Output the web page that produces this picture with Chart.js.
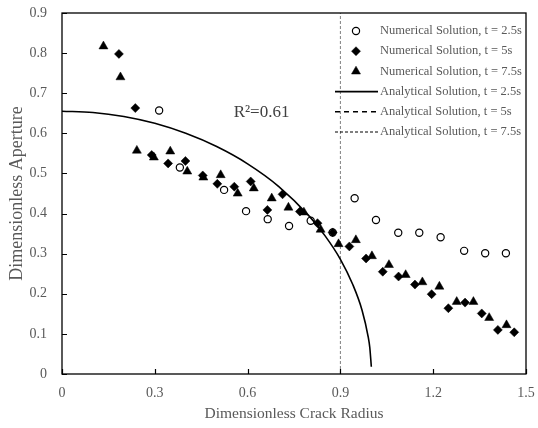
<!DOCTYPE html>
<html>
<head>
<meta charset="utf-8">
<script src="https://cdn.jsdelivr.net/npm/chart.js@4.4.0/dist/chart.umd.min.js"></script>
<style>
  html, body { margin: 0; padding: 0; background: #fff; }
  #wrap { width: 538px; height: 428px; }
</style>
</head>
<body>
<div id="wrap"><canvas id="chart" width="538" height="428"></canvas></div>
<script>
/* ---------------- Data ---------------- */
const xTicks = [0, 0.3, 0.6, 0.9, 1.2, 1.5];
const yTicks = [0, 0.1, 0.2, 0.3, 0.4, 0.5, 0.6, 0.7, 0.8, 0.9];

// Numerical solution, t = 2.5s (open circles)
const num25X = [0.314, 0.381, 0.524, 0.595, 0.665, 0.734, 0.804, 0.875, 0.946, 1.015, 1.087, 1.155, 1.224, 1.300, 1.368, 1.435];
const num25Y = [0.657, 0.515, 0.459, 0.406, 0.386, 0.369, 0.382, 0.353, 0.438, 0.384, 0.352, 0.352, 0.341, 0.307, 0.301, 0.301];

// Numerical solution, t = 5s (diamonds)
const num5X = [0.184, 0.237, 0.290, 0.343, 0.399, 0.455, 0.502, 0.557, 0.610, 0.664, 0.713, 0.769, 0.826, 0.875, 0.929, 0.983, 1.037, 1.088, 1.141, 1.195, 1.249, 1.303, 1.357, 1.409, 1.462];
const num5Y = [0.798, 0.663, 0.546, 0.525, 0.531, 0.495, 0.474, 0.467, 0.480, 0.409, 0.448, 0.405, 0.376, 0.353, 0.318, 0.288, 0.255, 0.243, 0.223, 0.199, 0.164, 0.178, 0.151, 0.110, 0.104];

// Numerical solution, t = 7.5s (triangles)
const num75X = [0.134, 0.189, 0.242, 0.297, 0.350, 0.405, 0.457, 0.513, 0.568, 0.620, 0.678, 0.732, 0.782, 0.836, 0.894, 0.950, 1.002, 1.057, 1.111, 1.165, 1.220, 1.276, 1.330, 1.381, 1.437];
const num75Y = [0.817, 0.740, 0.557, 0.540, 0.555, 0.505, 0.490, 0.496, 0.450, 0.463, 0.438, 0.415, 0.403, 0.360, 0.324, 0.334, 0.294, 0.272, 0.247, 0.229, 0.218, 0.180, 0.180, 0.140, 0.122];

// Analytical solution, t = 2.5s
const anaX = [0, 0.1, 0.2, 0.3, 0.4, 0.5, 0.6, 0.7, 0.8, 0.85, 0.9, 0.94, 0.97, 0.99, 0.995, 1.0];
const anaY = [0.655, 0.652, 0.642, 0.625, 0.600, 0.567, 0.524, 0.468, 0.393, 0.345, 0.286, 0.223, 0.159, 0.092, 0.066, 0.018];

// Vertical reference line
const refX = [0.9, 0.9];
const refY = [0, 0.9];

const legendLabels = [
  'Numerical Solution, t = 2.5s',
  'Numerical Solution, t = 5s',
  'Numerical Solution, t = 7.5s',
  'Analytical Solution, t = 2.5s',
  'Analytical Solution, t = 5s',
  'Analytical Solution, t = 7.5s'
];
const rText = 'R\u00B2=0.61';
const rPos = [0.645, 0.641];

const toPoints = (xs, ys) => xs.map((x, i) => ({ x: x, y: ys[i] }));

const grey = '#595959';
const serif = '"Liberation Serif", "Times New Roman", serif';

/* ---------------- Plugins ---------------- */
// Box round the plot and inward tick marks
const framePlugin = {
  id: 'frame',
  afterDraw(chart) {
    const { ctx, chartArea: a, scales } = chart;
    ctx.save();
    ctx.strokeStyle = '#000';
    ctx.lineWidth = 1.3;
    ctx.strokeRect(a.left, a.top, a.right - a.left, a.bottom - a.top);
    ctx.lineWidth = 1.2;
    ctx.beginPath();
    xTicks.forEach(v => {
      const px = Math.round(scales.x.getPixelForValue(v)) + 0.5;
      ctx.moveTo(px, a.bottom);
      ctx.lineTo(px, a.bottom - 5);
    });
    yTicks.forEach(v => {
      const py = Math.round(scales.y.getPixelForValue(v)) + 0.5;
      ctx.moveTo(a.left, py);
      ctx.lineTo(a.left + 5, py);
    });
    ctx.stroke();
    ctx.restore();
  }
};

// Legend drawn inside the plot, top right
const legendPlugin = {
  id: 'insideLegend',
  afterDatasetsDraw(chart) {
    const ctx = chart.ctx;
    ctx.save();
    chart.data.datasets.forEach((ds, i) => {
      if (i >= legendLabels.length) return;
      const y = 31 + i * 20.2;
      ctx.strokeStyle = ds.borderColor;
      ctx.fillStyle = ds.backgroundColor;
      if (ds.showLine) {
        ctx.lineWidth = ds.borderWidth;
        ctx.setLineDash(ds.borderDash || []);
        ctx.beginPath();
        ctx.moveTo(335, y);
        ctx.lineTo(378, y);
        ctx.stroke();
        ctx.setLineDash([]);
      } else {
        ctx.lineWidth = ds.borderWidth;
        Chart.helpers.drawPoint(ctx, {
          pointStyle: ds.pointStyle,
          radius: ds.pointRadius,
          borderWidth: ds.borderWidth,
          rotation: 0
        }, 356, y);
      }
      ctx.font = '12.5px ' + serif;
      ctx.fillStyle = grey;
      ctx.textBaseline = 'middle';
      ctx.textAlign = 'left';
      ctx.fillText(legendLabels[i], 380, y);
    });
    // R squared note
    ctx.font = '17px ' + serif;
    ctx.fillStyle = '#404040';
    ctx.textAlign = 'center';
    ctx.textBaseline = 'alphabetic';
    ctx.fillText(rText, chart.scales.x.getPixelForValue(rPos[0]), chart.scales.y.getPixelForValue(rPos[1]));
    ctx.restore();
  }
};

/* ---------------- Chart ---------------- */
const ctx = document.getElementById('chart').getContext('2d');
const chart = new Chart(ctx, {
  type: 'scatter',
  data: {
    datasets: [
      {
        label: legendLabels[0],
        data: toPoints(num25X, num25Y),
        pointStyle: 'circle',
        pointRadius: 3.6,
        borderWidth: 1.2,
        borderColor: '#000',
        backgroundColor: 'rgba(0,0,0,0)',
        order: 1
      },
      {
        label: legendLabels[1],
        data: toPoints(num5X, num5Y),
        pointStyle: 'rectRot',
        pointRadius: 4.5,
        borderWidth: 0.5,
        borderColor: '#000',
        backgroundColor: '#000',
        order: 1
      },
      {
        label: legendLabels[2],
        data: toPoints(num75X, num75Y),
        pointStyle: 'triangle',
        pointRadius: 5.2,
        borderWidth: 0.5,
        borderColor: '#000',
        backgroundColor: '#000',
        order: 1
      },
      {
        label: legendLabels[3],
        data: toPoints(anaX, anaY),
        showLine: true,
        pointRadius: 0,
        borderWidth: 1.6,
        borderColor: '#000',
        backgroundColor: '#000',
        cubicInterpolationMode: 'monotone',
        order: 2
      },
      {
        label: legendLabels[4],
        data: [],
        showLine: true,
        pointRadius: 0,
        borderWidth: 1.4,
        borderDash: [5, 4],
        borderColor: '#000',
        backgroundColor: '#000',
        order: 2
      },
      {
        label: legendLabels[5],
        data: [],
        showLine: true,
        pointRadius: 0,
        borderWidth: 1.2,
        borderDash: [3, 2],
        borderColor: '#000',
        backgroundColor: '#000',
        order: 2
      },
      {
        label: 'reference',
        data: toPoints(refX, refY),
        showLine: true,
        pointRadius: 0,
        borderWidth: 1,
        borderDash: [3, 2],
        borderColor: '#808080',
        backgroundColor: '#808080',
        order: 3
      }
    ]
  },
  options: {
    responsive: false,
    animation: false,
    layout: { padding: { top: 13, right: 12, left: 0, bottom: 0 } },
    plugins: {
      legend: { display: false },
      tooltip: { enabled: false }
    },
    scales: {
      x: {
        type: 'linear',
        min: 0,
        max: 1.5,
        afterBuildTicks: axis => { axis.ticks = xTicks.map(v => ({ value: v })); },
        afterFit: axis => {
          axis.height = 54;
          axis.paddingLeft = 0;
          axis.paddingRight = 0;
        },
        grid: { display: false, drawTicks: false },
        border: { display: false },
        ticks: {
          padding: 11,
          color: grey,
          font: { family: serif, size: 14 },
          callback: v => String(v)
        },
        title: {
          display: true,
          text: 'Dimensionless Crack Radius',
          color: grey,
          font: { family: serif, size: 15.5, lineHeight: 1 },
          padding: { top: 0, bottom: 6 }
        }
      },
      y: {
        type: 'linear',
        min: 0,
        max: 0.9,
        afterBuildTicks: axis => { axis.ticks = yTicks.map(v => ({ value: v })); },
        afterFit: axis => {
          axis.width = 62;
          axis.paddingTop = 0;
          axis.paddingBottom = 0;
        },
        grid: { display: false, drawTicks: false },
        border: { display: false },
        ticks: {
          padding: 15,
          color: grey,
          font: { family: serif, size: 14 },
          callback: v => String(v)
        },
        title: {
          display: true,
          text: 'Dimensionless Aperture',
          color: grey,
          font: { family: serif, size: 18, lineHeight: 1 },
          padding: { top: 8, bottom: 0 }
        }
      }
    }
  },
  plugins: [framePlugin, legendPlugin]
});
</script>
</body>
</html>
